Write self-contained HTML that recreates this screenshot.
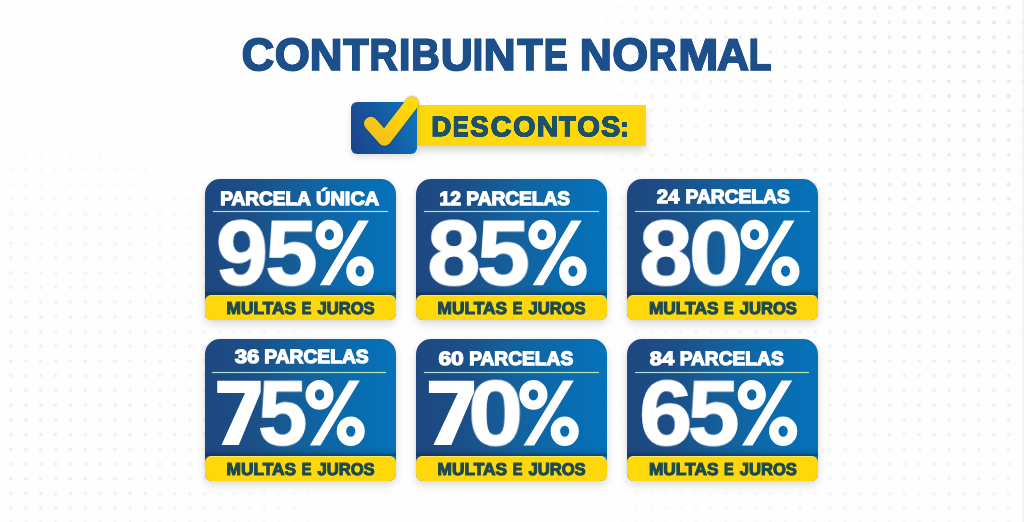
<!DOCTYPE html>
<html lang="pt-BR">
<head>
<meta charset="utf-8">
<title>Contribuinte Normal - Descontos</title>
<style>
  html, body { margin: 0; padding: 0; }
  body {
    width: 1024px; height: 522px; overflow: hidden; position: relative;
    background: #fefefe;
    font-family: "Liberation Sans", sans-serif;
  }
  .bg { position: absolute; left: 0; top: 0; width: 1024px; height: 522px; }
  .t {
    position: absolute; left: 0; top: 0; margin: 0; padding: 0;
    white-space: nowrap; transform-origin: 0 0;
    font-family: "Liberation Sans", sans-serif; font-weight: bold;
    font-size: 100px; line-height: 100px; height: 100px;
    will-change: transform; -webkit-font-smoothing: antialiased; text-rendering: geometricPrecision;
  }
  .ttl, .btx { position: absolute; left: 0; top: 0; margin: 0; padding: 0; width: 0; height: 0; font-size: 0; }
  .sp { font-size: 0; }
  .t.w  { color: #ffffff; }
  .t.f  { color: #1d4a52; }
  .t.ti { color: #1d4f8b; }
  .t.bt { color: #1d5168; }

  .badge-bar {
    position: absolute; left: 416px; top: 105px; width: 230px; height: 41px;
    background: #fed80b;
    box-shadow: 0 5px 7px rgba(0,0,0,0.15);
  }
  .badge-box {
    position: absolute; left: 351px; top: 102px; width: 66px; height: 52px;
    border-radius: 6px;
    background: linear-gradient(70deg, #1a4589 0%, #17529a 35%, #0e77c0 100%);
    box-shadow: 0 3px 6px rgba(0,0,0,0.12);
  }
  .check { position: absolute; left: 340px; top: 90px; width: 100px; height: 75px; filter: drop-shadow(0 0.6px 0.8px rgba(5,25,70,0.45)); }

  .card {
    position: absolute;
    border-radius: 15px 15px 7px 7px;
    background: linear-gradient(90deg, #1e4780 0%, #1b4f88 25%, #14609c 50%, #0b6aad 75%, #0472ba 100%);
    box-shadow: 0 4px 8px rgba(0,0,0,0.14), 0 0 3px rgba(0,0,0,0.06);
    overflow: hidden;
  }
  .rule {
    position: absolute; height: 1px; box-shadow: 0 0 1.2px rgba(170,225,215,0.75);
    background: linear-gradient(90deg, #b4e3dc, #a4ded4 50%, #c6e6a6);
  }
  .ov { position: absolute; left: 0; top: 0; width: 1024px; height: 522px; pointer-events: none; }
  .shade { position: absolute; left: 0; width: 100%; height: 9px; background: linear-gradient(180deg, rgba(12,38,48,0) 0%, rgba(12,38,48,0.10) 55%, rgba(12,38,48,0.55) 100%); }
  .foot {
    position: absolute; border-radius: 6.5px; background: #fed80b;
    box-shadow: inset 0 1px 0 rgba(255,240,130,0.7);
  }
</style>
</head>
<body>
<svg class="bg" width="1024" height="522" viewBox="0 0 1024 522">
  <defs>
    <pattern id="dots" x="0" y="0" width="14.89" height="14.72" patternUnits="userSpaceOnUse">
      <circle cx="11" cy="7.7" r="1.9" fill="#e3e5e7"/>
    </pattern>
    <linearGradient id="fadeR" x1="0" x2="1" y1="0" y2="0">
      <stop offset="0" stop-color="#fff" stop-opacity="0"/>
      <stop offset="0.12" stop-color="#fff" stop-opacity="0.4"/>
      <stop offset="0.5" stop-color="#fff" stop-opacity="0.85"/>
      <stop offset="1" stop-color="#fff" stop-opacity="1"/>
    </linearGradient>
    <linearGradient id="dimV" x1="0" x2="0" y1="0" y2="1">
      <stop offset="0" stop-color="#000" stop-opacity="0"/>
      <stop offset="0.35" stop-color="#000" stop-opacity="0.15"/>
      <stop offset="1" stop-color="#000" stop-opacity="0.6"/>
    </linearGradient>
    <radialGradient id="fadeL" gradientUnits="userSpaceOnUse" cx="40" cy="430" r="320">
      <stop offset="0" stop-color="#fff" stop-opacity="0.62"/>
      <stop offset="0.55" stop-color="#fff" stop-opacity="0.42"/>
      <stop offset="1" stop-color="#fff" stop-opacity="0.07"/>
    </radialGradient>
    <symbol id="pct" viewBox="0 0 58.3 66" preserveAspectRatio="none" overflow="visible">
      <path fill="#ffffff" fill-rule="evenodd" d="M13.8 0 A13.8 14.9 0 1 0 13.8 29.8 A13.8 14.9 0 1 0 13.8 0 Z M13.8 9.3 A4.6 5.6 0 1 1 13.8 20.5 A4.6 5.6 0 1 1 13.8 9.3 Z M44.5 36.4 A13.8 14.8 0 1 0 44.5 66 A13.8 14.8 0 1 0 44.5 36.4 Z M44.5 45.6 A4.5 5.6 0 1 1 44.5 56.8 A4.5 5.6 0 1 1 44.5 45.6 Z M42.9 0.7 L53.4 0.7 L14.6 65.3 L4.2 65.3 Z"/>
    </symbol>
    <symbol id="sev" viewBox="0 0 44.1 64.3" preserveAspectRatio="none" overflow="visible">
      <path fill="#ffffff" d="M0 0 L44.1 0 L44.1 11.2 L21.9 64.3 L4.4 64.3 L28.2 12.4 L0 12.4 Z"/>
    </symbol>
    <mask id="mR"><rect x="585" y="0" width="439" height="522" fill="url(#fadeR)"/><rect x="585" y="0" width="439" height="522" fill="url(#dimV)"/></mask>
    <mask id="mL"><rect x="0" y="0" width="320" height="522" fill="url(#fadeL)"/></mask>
  </defs>
  <rect width="1024" height="522" fill="#fefefe"/>
  <rect x="585" y="0" width="439" height="522" fill="url(#dots)" mask="url(#mR)"/>
  <rect x="0" y="0" width="320" height="522" fill="url(#dots)" mask="url(#mL)"/>
  <rect x="1022.4" y="0" width="1.6" height="522" fill="#f0f1f2"/>
</svg>

<h1 class="ttl"><span class="t ti" style="transform:matrix(0.4504,0,0,0.4537,241.60,31.98);-webkit-text-stroke:3.98px currentColor;">C</span><span class="t ti" style="transform:matrix(0.4518,0,0,0.4537,274.69,31.98);-webkit-text-stroke:3.98px currentColor;">O</span><span class="t ti" style="transform:matrix(0.4545,0,0,0.4407,309.63,32.72);-webkit-text-stroke:4.02px currentColor;">N</span><span class="t ti" style="transform:matrix(0.4169,0,0,0.4407,343.08,32.72);-webkit-text-stroke:4.20px currentColor;">T</span><span class="t ti" style="transform:matrix(0.3874,0,0,0.4407,369.49,32.72);-webkit-text-stroke:4.35px currentColor;">R</span><span class="t ti" style="transform:matrix(0.4140,0,0,0.4407,398.91,32.72);-webkit-text-stroke:4.21px currentColor;">I</span><span class="t ti" style="transform:matrix(0.3918,0,0,0.4407,411.36,32.72);-webkit-text-stroke:4.32px currentColor;">B</span><span class="t ti" style="transform:matrix(0.4450,0,0,0.4459,440.73,32.64);-webkit-text-stroke:4.04px currentColor;">U</span><span class="t ti" style="transform:matrix(0.3719,0,0,0.4407,472.79,32.72);-webkit-text-stroke:4.43px currentColor;">I</span><span class="t ti" style="transform:matrix(0.4426,0,0,0.4407,483.61,32.72);-webkit-text-stroke:4.08px currentColor;">N</span><span class="t ti" style="transform:matrix(0.4203,0,0,0.4407,517.08,32.72);-webkit-text-stroke:4.18px currentColor;">T</span><span class="t ti" style="transform:matrix(0.3554,0,0,0.4407,543.90,32.72);-webkit-text-stroke:4.52px currentColor;">E</span><span class="sp"> </span><span class="t ti" style="transform:matrix(0.4443,0,0,0.4407,579.80,32.72);-webkit-text-stroke:4.07px currentColor;">N</span><span class="t ti" style="transform:matrix(0.4619,0,0,0.4537,612.25,31.98);-webkit-text-stroke:3.93px currentColor;">O</span><span class="t ti" style="transform:matrix(0.3842,0,0,0.4407,648.71,32.72);-webkit-text-stroke:4.36px currentColor;">R</span><span class="t ti" style="transform:matrix(0.4832,0,0,0.4407,678.14,32.72);-webkit-text-stroke:3.90px currentColor;">M</span><span class="t ti" style="transform:matrix(0.4373,0,0,0.4407,717.21,32.72);-webkit-text-stroke:4.10px currentColor;">A</span><span class="t ti" style="transform:matrix(0.3668,0,0,0.4407,748.72,32.72);-webkit-text-stroke:4.46px currentColor;">L</span></h1>

<div class="badge-bar"></div>
<div class="badge-box"></div>
<div class="btx"><span class="t bt" style="transform:matrix(0.2743,0,0,0.2749,431.40,112.79);-webkit-text-stroke:5.46px currentColor;">D</span><span class="t bt" style="transform:matrix(0.2357,0,0,0.2749,452.76,112.79);-webkit-text-stroke:5.88px currentColor;">E</span><span class="t bt" style="transform:matrix(0.2728,0,0,0.2827,470.33,112.45);-webkit-text-stroke:5.40px currentColor;">S</span><span class="t bt" style="transform:matrix(0.2840,0,0,0.2827,490.81,112.45);-webkit-text-stroke:5.29px currentColor;">C</span><span class="t bt" style="transform:matrix(0.2849,0,0,0.2827,513.21,112.45);-webkit-text-stroke:5.29px currentColor;">O</span><span class="t bt" style="transform:matrix(0.2945,0,0,0.2749,536.96,112.79);-webkit-text-stroke:5.27px currentColor;">N</span><span class="t bt" style="transform:matrix(0.2695,0,0,0.2749,559.08,112.79);-webkit-text-stroke:5.51px currentColor;">T</span><span class="t bt" style="transform:matrix(0.2921,0,0,0.2827,577.18,112.45);-webkit-text-stroke:5.22px currentColor;">O</span><span class="t bt" style="transform:matrix(0.2845,0,0,0.2827,601.20,112.45);-webkit-text-stroke:5.29px currentColor;">S</span><span class="t bt" style="transform:matrix(0.2316,0,0,0.2574,620.55,114.25);-webkit-text-stroke:6.13px currentColor;">:</span></div>
<svg class="check" viewBox="0 0 100 75">
  <defs>
    <linearGradient id="ck" x1="0" y1="1" x2="1" y2="0">
      <stop offset="0" stop-color="#f4be1c"/>
      <stop offset="0.6" stop-color="#fdd10f"/>
      <stop offset="1" stop-color="#ffd90a"/>
    </linearGradient>
  </defs>
  <path d="M30.8 33.5 L44.5 49 L72 13.2" fill="none" stroke="url(#ck)" stroke-width="13.6" stroke-linecap="round" stroke-linejoin="round"/>
</svg>

<!-- card 1 -->
<div class="card" style="left:205px;top:179px;width:191px;height:141px;"><div class="shade" style="top:107px;"></div></div>
<div class="rule" style="left:213px;top:211px;width:175px;"></div>
<div class="foot" style="left:205px;top:295px;width:191px;height:25px;"></div>
<div class="t w" style="transform:matrix(0.1904,0,0,0.1920,220.17,188.64);-webkit-text-stroke:6.80px currentColor;">PARCELA</div>
<div class="t w" style="transform:matrix(0.1992,0,0,0.1920,316.10,188.64);-webkit-text-stroke:6.65px currentColor;">ÚNICA</div>
<div class="t w" style="transform:matrix(0.9320,0,0,0.9201,216.04,207.28);-webkit-text-stroke:1.73px currentColor;">9</div>
<div class="t w" style="transform:matrix(0.9347,0,0,0.9176,265.50,207.50);-webkit-text-stroke:1.73px currentColor;">5</div>
<div class="t f" style="transform:matrix(0.1731,0,0,0.1716,226.58,299.95);-webkit-text-stroke:6.38px currentColor;">MULTAS</div>
<div class="t f" style="transform:matrix(0.1446,0,0,0.1716,301.77,299.95);-webkit-text-stroke:6.96px currentColor;">E</div>
<div class="t f" style="transform:matrix(0.1661,0,0,0.1716,317.40,299.95);-webkit-text-stroke:6.51px currentColor;">JUROS</div>
<!-- card 2 -->
<div class="card" style="left:416px;top:179px;width:191px;height:141px;"><div class="shade" style="top:107px;"></div></div>
<div class="rule" style="left:424px;top:211px;width:175px;"></div>
<div class="foot" style="left:416px;top:295px;width:191px;height:25px;"></div>
<div class="t w" style="transform:matrix(0.1935,0,0,0.1935,439.44,188.62);-webkit-text-stroke:6.72px currentColor;">12</div>
<div class="t w" style="transform:matrix(0.1910,0,0,0.1935,466.36,188.62);-webkit-text-stroke:6.76px currentColor;">PARCELAS</div>
<div class="t w" style="transform:matrix(0.9503,0,0,0.9187,427.41,207.40);-webkit-text-stroke:1.71px currentColor;">8</div>
<div class="t w" style="transform:matrix(0.9447,0,0,0.9176,477.27,207.50);-webkit-text-stroke:1.72px currentColor;">5</div>
<div class="t f" style="transform:matrix(0.1731,0,0,0.1716,437.58,299.95);-webkit-text-stroke:6.38px currentColor;">MULTAS</div>
<div class="t f" style="transform:matrix(0.1446,0,0,0.1716,512.77,299.95);-webkit-text-stroke:6.96px currentColor;">E</div>
<div class="t f" style="transform:matrix(0.1661,0,0,0.1716,528.40,299.95);-webkit-text-stroke:6.51px currentColor;">JUROS</div>
<!-- card 3 -->
<div class="card" style="left:627px;top:179px;width:191px;height:141px;"><div class="shade" style="top:107px;"></div></div>
<div class="rule" style="left:635px;top:211px;width:175px;"></div>
<div class="foot" style="left:627px;top:295px;width:191px;height:25px;"></div>
<div class="t w" style="transform:matrix(0.2028,0,0,0.1920,656.84,186.74);-webkit-text-stroke:6.59px currentColor;">24</div>
<div class="t w" style="transform:matrix(0.1919,0,0,0.1920,685.55,186.74);-webkit-text-stroke:6.77px currentColor;">PARCELAS</div>
<div class="t w" style="transform:matrix(0.9503,0,0,0.9187,639.41,207.40);-webkit-text-stroke:1.71px currentColor;">8</div>
<div class="t w" style="transform:matrix(0.9811,0,0,0.9187,688.98,207.40);-webkit-text-stroke:1.68px currentColor;">0</div>
<div class="t f" style="transform:matrix(0.1731,0,0,0.1716,648.88,299.95);-webkit-text-stroke:6.38px currentColor;">MULTAS</div>
<div class="t f" style="transform:matrix(0.1446,0,0,0.1716,724.07,299.95);-webkit-text-stroke:6.96px currentColor;">E</div>
<div class="t f" style="transform:matrix(0.1661,0,0,0.1716,739.70,299.95);-webkit-text-stroke:6.51px currentColor;">JUROS</div>
<!-- card 4 -->
<div class="card" style="left:205px;top:339px;width:191px;height:142px;"><div class="shade" style="top:108px;"></div></div>
<div class="rule" style="left:212px;top:372px;width:174px;"></div>
<div class="foot" style="left:205px;top:456px;width:191px;height:25px;"></div>
<div class="t w" style="transform:matrix(0.2214,0,0,0.1920,234.75,346.64);-webkit-text-stroke:6.29px currentColor;">36</div>
<div class="t w" style="transform:matrix(0.1923,0,0,0.1920,264.25,346.64);-webkit-text-stroke:6.77px currentColor;">PARCELAS</div>
<div class="t w" style="transform:matrix(0.8784,0,0,0.9147,258.26,367.64);-webkit-text-stroke:1.78px currentColor;">5</div>
<div class="t f" style="transform:matrix(0.1731,0,0,0.1716,226.58,460.95);-webkit-text-stroke:6.38px currentColor;">MULTAS</div>
<div class="t f" style="transform:matrix(0.1446,0,0,0.1716,301.77,460.95);-webkit-text-stroke:6.96px currentColor;">E</div>
<div class="t f" style="transform:matrix(0.1661,0,0,0.1716,317.40,460.95);-webkit-text-stroke:6.51px currentColor;">JUROS</div>
<!-- card 5 -->
<div class="card" style="left:416px;top:339px;width:191px;height:142px;"><div class="shade" style="top:108px;"></div></div>
<div class="rule" style="left:424px;top:372px;width:175px;"></div>
<div class="foot" style="left:416px;top:456px;width:191px;height:25px;"></div>
<div class="t w" style="transform:matrix(0.2286,0,0,0.1935,438.39,348.62);-webkit-text-stroke:6.16px currentColor;">60</div>
<div class="t w" style="transform:matrix(0.1917,0,0,0.1935,469.16,348.62);-webkit-text-stroke:6.75px currentColor;">PARCELAS</div>
<div class="t w" style="transform:matrix(0.9811,0,0,0.9187,468.38,367.50);-webkit-text-stroke:1.68px currentColor;">0</div>
<div class="t f" style="transform:matrix(0.1731,0,0,0.1716,437.58,460.95);-webkit-text-stroke:6.38px currentColor;">MULTAS</div>
<div class="t f" style="transform:matrix(0.1446,0,0,0.1716,512.77,460.95);-webkit-text-stroke:6.96px currentColor;">E</div>
<div class="t f" style="transform:matrix(0.1661,0,0,0.1716,528.40,460.95);-webkit-text-stroke:6.51px currentColor;">JUROS</div>
<!-- card 6 -->
<div class="card" style="left:627px;top:339px;width:191px;height:142px;"><div class="shade" style="top:108px;"></div></div>
<div class="rule" style="left:635px;top:372px;width:174px;"></div>
<div class="foot" style="left:627px;top:456px;width:191px;height:25px;"></div>
<div class="t w" style="transform:matrix(0.2200,0,0,0.1935,649.83,348.62);-webkit-text-stroke:6.29px currentColor;">84</div>
<div class="t w" style="transform:matrix(0.1917,0,0,0.1935,679.66,348.62);-webkit-text-stroke:6.75px currentColor;">PARCELAS</div>
<div class="t w" style="transform:matrix(0.9513,0,0,0.9187,639.23,367.50);-webkit-text-stroke:1.71px currentColor;">6</div>
<div class="t w" style="transform:matrix(0.9266,0,0,0.9176,687.82,367.60);-webkit-text-stroke:1.74px currentColor;">5</div>
<div class="t f" style="transform:matrix(0.1731,0,0,0.1716,648.88,460.95);-webkit-text-stroke:6.38px currentColor;">MULTAS</div>
<div class="t f" style="transform:matrix(0.1446,0,0,0.1716,724.07,460.95);-webkit-text-stroke:6.96px currentColor;">E</div>
<div class="t f" style="transform:matrix(0.1661,0,0,0.1716,739.70,460.95);-webkit-text-stroke:6.51px currentColor;">JUROS</div>
<!-- percent signs and straight-stem sevens drawn as shapes -->
<svg class="ov" width="1024" height="522" viewBox="0 0 1024 522"><use href="#pct" x="315.60" y="219.70" width="58.20" height="66.30"/><use href="#pct" x="528.40" y="219.70" width="58.30" height="66.30"/><use href="#pct" x="740.60" y="219.70" width="58.90" height="66.30"/><use href="#sev" x="217.20" y="380.70" width="43.50" height="64.30"/><use href="#pct" x="305.50" y="379.90" width="59.30" height="66.20"/><use href="#sev" x="428.90" y="380.70" width="45.20" height="64.30"/><use href="#pct" x="519.30" y="379.90" width="59.50" height="66.20"/><use href="#pct" x="737.70" y="379.90" width="59.55" height="66.20"/></svg>
</body>
</html>
